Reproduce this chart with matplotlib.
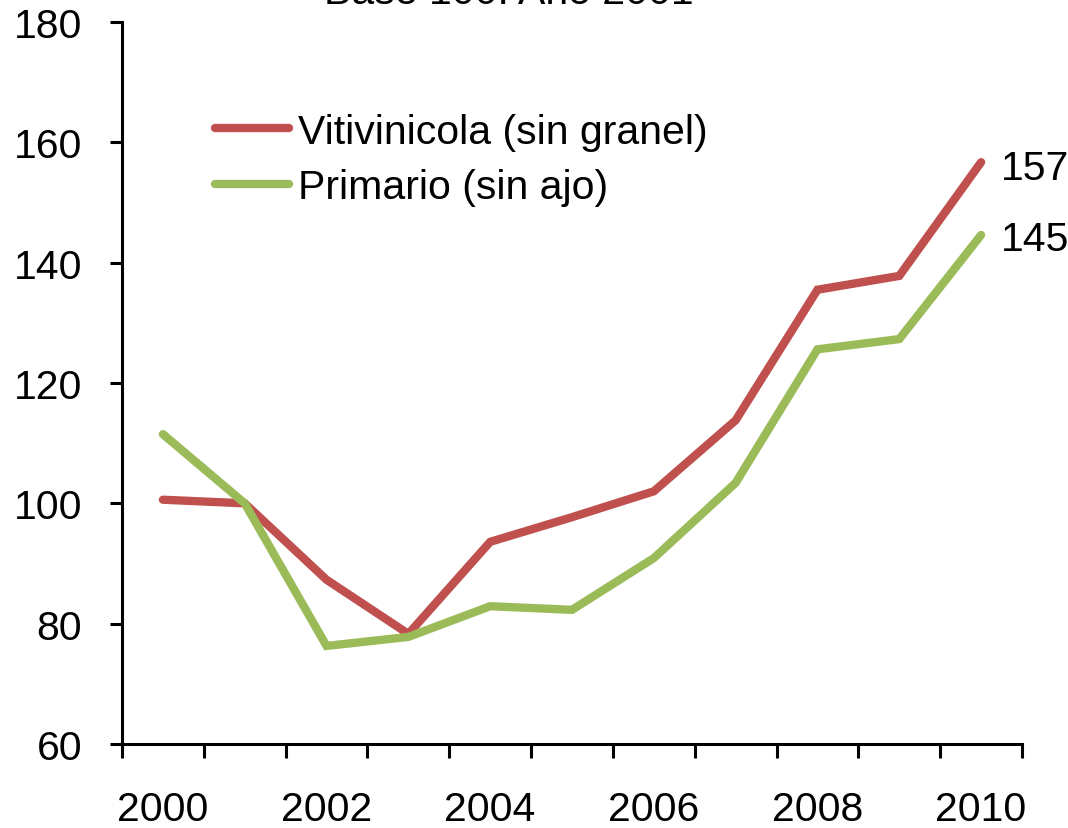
import matplotlib
matplotlib.use('Agg')
import matplotlib.pyplot as plt
import numpy as np

plt.rcParams['font.family'] = ['Liberation Sans', 'DejaVu Sans']

# datos (indice base 100 = 2001)
years = [2000, 2001, 2002, 2003, 2004, 2005, 2006, 2007, 2008, 2009, 2010]
vitivinicola = [100.6, 100.0, 87.3, 78.3, 93.6, 97.7, 102.0, 113.8, 135.5, 137.8, 156.7]
primario = [111.5, 100.0, 76.3, 77.8, 82.9, 82.3, 90.9, 103.4, 125.6, 127.3, 144.6]
series_names = ['Vitivinicola (sin granel)', 'Primario (sin ajo)']
end_labels = ['157', '145']
tick_years = [2000, 2002, 2004, 2006, 2008, 2010]

red = '#C0504D'
green = '#9BBB59'

fig = plt.figure(figsize=(10.68, 8.29), dpi=100)
ax = fig.add_axes([122/1068, 1 - 745/829, 900/1068, (745 - 23)/829])

x = np.arange(len(years))
l1, = ax.plot(x, vitivinicola, color=red, lw=6, solid_capstyle='round',
              solid_joinstyle='miter', label=series_names[0])
l2, = ax.plot(x, primario, color=green, lw=6, solid_capstyle='round',
              solid_joinstyle='miter', label=series_names[1])

ax.text(x[-1] + 0.24, vitivinicola[-1] - 1.0, end_labels[0], fontsize=29.5, va='center', ha='left')
ax.text(x[-1] + 0.24, primario[-1] - 0.7, end_labels[1], fontsize=29.5, va='center', ha='left')

ax.set_xlim(-0.5, len(years) - 0.5)
ax.set_ylim(60, 180)
ax.set_yticks(range(60, 181, 20))

pos = [years.index(y) for y in tick_years]
ax.set_xticks(pos)
ax.set_xticklabels([str(y) for y in tick_years])
ax.set_xticks(np.arange(-0.5, len(years), 1), minor=True)
ax.tick_params(axis='x', which='major', length=0, pad=33, labelsize=29.5)
ax.tick_params(axis='x', which='minor', length=10, width=2.2, direction='out')
ax.tick_params(axis='y', length=8.6, width=2.2, direction='out', pad=20, labelsize=29.5)

for s in ['top', 'right']:
    ax.spines[s].set_visible(False)
for s in ['left', 'bottom']:
    ax.spines[s].set_linewidth(2.2)

leg = ax.legend(handles=[l1, l2], loc='upper left', bbox_to_anchor=(0.085, 0.897),
                frameon=False, fontsize=29.5, handlelength=1.82, handletextpad=0.2,
                labelspacing=0.43, borderaxespad=0)
for h in leg.get_lines():
    h.set_solid_capstyle('round')

fig.text(0.476, 0.995, 'Base 100: Año 2001', fontsize=29.5, ha='center', va='baseline')

plt.savefig('out.png', dpi=100)
